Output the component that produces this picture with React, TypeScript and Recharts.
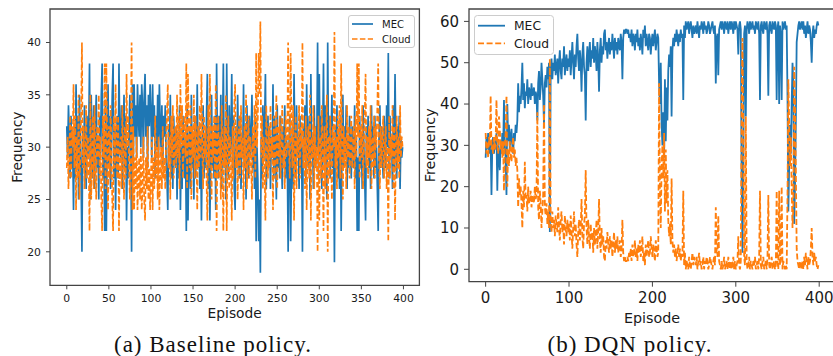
import React from 'react';
import { LineChart, Line, XAxis, YAxis, ReferenceArea } from 'recharts';

// ---------- data ----------
const baselineMEC = [
  32,29,34,31,27,33,28,30,24,32,27,36,29,33,25,35,31,27,20,32,
  28,34,30,26,33,29,31,38,25,35,30,27,34,26,32,35,28,31,25,33,
  29,35,38,27,31,22,34,22,30,36,28,33,26,30,35,38,27,32,24,31,
  33,27,38,30,29,34,26,31,35,28,33,23,30,27,32,35,30,20,36,28,
  36,31,34,29,36,33,31,35,30,36,34,29,35,37,31,34,28,35,32,36,
  33,29,36,31,34,27,33,30,35,29,36,32,30,34,28,33,31,34,29,27,
  24,32,29,35,27,31,26,33,30,28,32,25,31,27,34,24,30,26,33,29,
  27,31,22,34,23,29,32,26,35,28,31,25,33,27,30,36,28,32,26,31,
  23,30,34,27,31,28,33,37,26,32,23,29,35,28,31,27,33,24,38,30,
  27,33,29,35,26,31,38,28,32,25,38,30,27,34,29,31,37,28,33,26,
  24,32,28,35,30,27,33,26,31,29,36,28,32,25,34,30,27,33,29,31,
  35,28,31,26,33,21,30,27,21,25,18,31,27,34,29,32,37,26,30,33,
  28,32,26,31,29,36,27,33,30,25,34,28,31,27,33,29,26,32,30,34,
  27,31,29,20,30,33,21,28,32,26,37,30,27,34,29,31,26,33,28,30,
  20,32,29,34,27,36,30,28,33,25,37,29,31,26,34,28,32,30,40,27,
  37,29,33,26,31,38,28,34,30,25,40,29,33,27,31,35,28,30,19,32,
  29,34,27,31,26,33,22,30,35,28,32,29,34,26,31,28,33,30,27,32,
  30,28,34,27,31,22,29,22,33,28,31,26,34,30,27,23,32,29,33,28,
  31,26,34,29,32,27,33,28,30,26,22,31,34,28,32,29,27,33,30,28,
  34,30,39,27,33,29,31,26,34,28,37,30,27,32,29,33,26,31,29,30,
];

const baselineCloud = [
  28,31,26,29,33,27,32,30,36,28,33,24,31,27,35,25,29,33,40,28,
  32,26,30,34,27,31,29,22,35,25,30,33,26,34,28,25,32,29,35,27,
  31,25,22,33,29,38,26,38,30,24,32,27,34,30,25,22,33,28,36,29,
  27,33,22,30,31,26,34,29,25,32,27,37,30,33,28,25,30,40,24,32,
  24,29,26,31,24,27,29,25,30,24,26,31,25,23,29,26,32,25,28,24,
  27,31,24,29,26,33,27,30,25,31,24,28,30,26,32,27,29,26,31,33,
  36,28,31,25,33,29,34,27,30,32,28,35,29,33,26,36,30,34,27,31,
  33,29,38,26,37,31,28,34,25,32,29,35,27,33,30,24,32,28,34,29,
  37,30,26,33,29,32,27,23,34,28,37,31,25,32,29,33,27,36,22,30,
  33,27,31,25,34,29,22,32,28,35,22,30,33,26,31,29,23,32,27,34,
  36,28,32,25,30,33,27,34,29,31,24,32,28,35,26,30,33,27,31,29,
  25,32,29,34,27,39,30,33,39,35,42,29,33,26,31,28,23,34,30,27,
  32,28,34,29,31,24,33,27,30,35,26,32,29,33,27,31,34,28,30,26,
  33,29,31,40,30,27,39,32,28,34,23,30,33,26,31,29,34,27,32,30,
  40,28,31,26,33,24,30,32,27,35,23,31,29,34,26,32,28,30,20,33,
  23,31,27,34,29,22,32,26,30,35,20,31,27,33,29,25,32,30,41,28,
  31,26,33,29,34,27,38,30,25,32,28,31,26,34,29,32,27,30,33,28,
  30,32,26,33,29,38,31,38,27,32,29,34,26,30,33,37,28,31,27,32,
  29,34,26,31,28,33,27,32,30,34,38,29,26,32,28,31,33,27,30,32,
  26,30,21,33,27,31,29,34,26,32,23,30,33,28,31,27,34,29,31,30,
];

const dqnMEC = [
  27,32,29,33,28,30,31,18,30,32,28,31,29,33,19,30,27,24,31,28,
  33,29,41,30,27,18,40,31,35,29,32,34,30,28,33,31,35,33,36,45,
  38,42,40,44,50,41,45,39,43,42,46,40,44,43,41,45,42,43,44,40,
  43,42,36,45,48,41,44,50,46,42,35,45,47,44,49,46,50,9,48,51,
  46,50,48,52,47,49,51,45,50,53,48,46,51,49,54,47,50,52,48,51,
  49,53,47,51,55,50,46,52,49,54,57,51,48,53,50,43,52,55,49,47,
  36,50,54,48,52,55,49,53,51,56,50,54,52,48,55,51,43,53,56,50,
  54,52,57,58,53,55,51,54,56,52,55,53,57,54,51,56,53,55,52,56,
  54,53,57,55,46,56,58,57,58,58,57,58,56,57,55,58,54,57,56,53,
  57,55,58,54,56,53,57,55,52,58,56,59,54,57,55,53,57,56,52,55,
  57,54,56,58,53,55,57,56,45,40,50,35,30,38,27,46,31,44,36,48,
  52,49,54,37,53,56,54,57,55,58,56,54,57,55,58,56,57,41,59,56,
  60,58,59,60,57,59,60,58,56,59,57,58,59,57,60,58,56,59,58,60,
  59,57,60,58,59,57,58,60,59,57,58,59,60,58,57,59,45,56,57,47,
  58,59,60,58,60,59,57,60,59,58,60,57,59,60,58,60,59,57,60,58,
  60,59,58,52,59,60,58,20,4,25,57,59,37,58,60,59,57,60,58,59,
  60,58,59,57,60,59,58,60,57,41,59,60,58,57,60,59,58,60,57,42,
  59,60,58,57,60,59,58,60,59,41,58,60,40,59,57,41,60,58,59,60,
  58,59,42,14,25,35,28,40,50,45,11,20,36,55,57,59,60,58,59,60,
  58,60,57,59,56,58,60,57,59,58,55,50,57,59,56,58,57,59,60,59,
];

const dqnCloud = [
  33,28,31,27,32,30,42,29,30,28,32,29,31,41,30,28,37,34,29,31,
  27,31,19,30,33,42,20,29,25,31,28,26,30,32,27,29,25,27,24,15,
  22,18,20,16,10,19,15,26,17,18,14,20,16,17,19,15,18,17,16,20,
  17,18,38,15,12,19,16,10,14,18,40,15,13,16,11,14,10,51,12,9,
  14,10,12,8,13,11,9,15,10,7,12,14,9,11,6,13,10,8,12,9,
  11,7,13,9,5,10,14,8,11,6,3,9,12,7,10,17,8,5,11,13,
  24,10,6,12,8,5,11,7,9,4,10,6,8,12,5,9,17,7,4,10,
  6,8,3,2,7,5,9,6,4,8,5,7,3,6,9,4,7,5,8,4,
  6,7,3,5,12,4,2,3,2,2,3,2,4,3,5,2,6,3,4,7,
  3,5,2,6,4,7,3,5,8,2,4,1,6,3,5,7,3,4,8,5,
  3,6,4,2,7,5,3,4,45,20,10,25,30,22,33,14,29,16,24,12,
  8,11,6,22,7,4,6,3,5,2,4,6,3,5,2,4,3,19,1,4,
  0,2,1,0,3,1,0,2,4,1,3,2,1,3,0,2,4,1,2,0,
  1,3,0,2,1,3,2,0,1,3,2,1,0,2,3,1,15,4,3,13,
  2,1,0,2,0,1,3,0,1,2,0,3,1,0,2,0,1,3,0,2,
  0,1,2,8,1,0,2,40,56,35,3,1,37,2,0,1,3,0,2,1,
  0,2,1,3,0,1,2,0,3,19,1,0,2,3,0,1,2,0,3,18,
  1,0,2,3,0,1,2,0,1,19,2,0,19,1,3,20,0,2,1,0,
  1,0,18,46,35,25,32,20,10,15,49,40,24,5,2,1,0,2,1,0,
  2,0,3,1,4,2,0,3,1,2,5,10,3,1,4,2,3,1,0,1,
];

const seriesNames = ['MEC', 'Cloud'];
const baselineXTicks = [0, 50, 100, 150, 200, 250, 300, 350, 400];
const baselineYTicks = [20, 25, 30, 35, 40];
const dqnXTicks = [0, 100, 200, 300, 400];
const dqnYTicks = [0, 10, 20, 30, 40, 50, 60];
const xLabel = 'Episode';
const yLabel = 'Frequency';
const captions = ['(a) Baseline policy.', '(b) DQN policy.'];

const baselineRows = baselineMEC.map((v, i) => ({ ep: i, mec: v, cloud: baselineCloud[i] }));
const dqnRows = dqnMEC.map((v, i) => ({ ep: i, mec: v, cloud: dqnCloud[i] }));

// ---------- style ----------
const BLUE = '#1f77b4';
const ORANGE = '#ff7f0e';
const SANS = '"DejaVu Sans", Verdana, sans-serif';
const SERIF = '"Liberation Serif", "Times New Roman", serif';
const TEXT = '#1a1a1a';
const SPINE = '#444444';
const X_DOMAIN: [number, number] = [-19.95, 418.95];

const xTick = (fontSize: number, dy: number) => (props: any) => {
  const { x, y, payload } = props;
  return (
    <text x={x} y={y + dy} textAnchor="middle" fontSize={fontSize} fontFamily={SANS} fill={TEXT}>
      {payload.value}
    </text>
  );
};

const yTick = (fontSize: number, dx: number) => (props: any) => {
  const { x, y, payload } = props;
  return (
    <text x={x - dx} y={y + fontSize * 0.36} textAnchor="end" fontSize={fontSize} fontFamily={SANS} fill={TEXT}>
      {payload.value}
    </text>
  );
};

const axisText = (text: string, x: number, y: number, fontSize: number, rotate = false) => () => (
  <text
    x={x}
    y={y}
    textAnchor="middle"
    fontSize={fontSize}
    fontFamily={SANS}
    fill={TEXT}
    transform={rotate ? `rotate(-90 ${x} ${y})` : undefined}
  >
    {text}
  </text>
);

export default function App() {
  return (
    <div
      style={{
        position: 'absolute',
        left: 0,
        top: 0,
        width: 833,
        height: 356,
        overflow: 'hidden',
        background: '#ffffff',
      }}
    >
      {/* Left panel: Baseline */}
      <div style={{ position: 'absolute', left: 0, top: 0 }}>
        <LineChart width={430} height={330} data={baselineRows} margin={{ top: 9, right: 10.6, bottom: 0, left: 0 }}>
          <XAxis
            dataKey="ep"
            type="number"
            domain={X_DOMAIN}
            allowDataOverflow
            ticks={baselineXTicks}
            interval={0}
            height={44.7}
            tickSize={4}
            tickMargin={0}
            axisLine={false}
            tickLine={{ stroke: SPINE }}
            tick={xTick(10.8, 12.6)}
            label={axisText(xLabel, 234.7, 317.5, 13.8)}
          />
          <YAxis
            type="number"
            domain={[16.8, 43.2]}
            allowDataOverflow
            ticks={baselineYTicks}
            interval={0}
            width={50}
            tickSize={4}
            tickMargin={0}
            axisLine={false}
            tickLine={{ stroke: SPINE }}
            tick={yTick(10.8, 5)}
            label={axisText(yLabel, 22, 147.2, 13.8, true)}
          />
          <Line type="linear" dataKey="mec" name={seriesNames[0]} stroke={BLUE} strokeWidth={1.7} dot={false} isAnimationActive={false} />
          <Line type="linear" dataKey="cloud" name={seriesNames[1]} stroke={ORANGE} strokeWidth={1.7} strokeDasharray="5.5 2.4" dot={false} isAnimationActive={false} />
          <ReferenceArea x1={X_DOMAIN[0]} x2={X_DOMAIN[1]} y1={16.8} y2={43.2} fill="none" stroke={SPINE} strokeWidth={1.3} ifOverflow="visible" />
        </LineChart>
      </div>

      {/* Right panel: DQN */}
      <div style={{ position: 'absolute', left: 410, top: 0 }}>
        <LineChart width={430} height={330} data={dqnRows} margin={{ top: 9, right: 5, bottom: 0, left: 0 }}>
          <XAxis
            dataKey="ep"
            type="number"
            domain={X_DOMAIN}
            allowDataOverflow
            ticks={dqnXTicks}
            interval={0}
            height={48.3}
            tickSize={5}
            tickMargin={0}
            axisLine={false}
            tickLine={{ stroke: SPINE }}
            tick={xTick(15, 16.5)}
            label={axisText(xLabel, 242, 323, 14.3)}
          />
          <YAxis
            type="number"
            domain={[-3, 63]}
            allowDataOverflow
            ticks={dqnYTicks}
            interval={0}
            width={59}
            tickSize={5}
            tickMargin={0}
            axisLine={false}
            tickLine={{ stroke: SPINE }}
            tick={yTick(15, 5)}
            label={axisText(yLabel, 25.3, 145.3, 14.3, true)}
          />
          <Line type="linear" dataKey="mec" name={seriesNames[0]} stroke={BLUE} strokeWidth={1.8} dot={false} isAnimationActive={false} />
          <Line type="linear" dataKey="cloud" name={seriesNames[1]} stroke={ORANGE} strokeWidth={1.8} strokeDasharray="6 2.6" dot={false} isAnimationActive={false} />
          <ReferenceArea x1={X_DOMAIN[0]} x2={X_DOMAIN[1]} y1={-3} y2={63} fill="none" stroke={SPINE} strokeWidth={1.3} ifOverflow="visible" />
        </LineChart>
      </div>

      {/* Legends and captions */}
      <svg width={833} height={356} style={{ position: 'absolute', left: 0, top: 0, pointerEvents: 'none' }}>
        {/* left legend */}
        <rect x={348.5} y={15.5} width={66} height={32} rx={2.5} fill="#ffffff" fillOpacity={0.85} stroke="#cccccc" />
        <line x1={352} y1={24} x2={373} y2={24} stroke={BLUE} strokeWidth={1.7} />
        <line x1={352} y1={39} x2={373} y2={39} stroke={ORANGE} strokeWidth={1.7} strokeDasharray="5.5 2.4" />
        <text x={382} y={27.6} fontSize={10} fontFamily={SANS} fill={TEXT}>{seriesNames[0]}</text>
        <text x={382} y={42.6} fontSize={10} fontFamily={SANS} fill={TEXT}>{seriesNames[1]}</text>

        {/* right legend */}
        <rect x={474.5} y={15.5} width={79} height={39} rx={3} fill="#ffffff" fillOpacity={0.85} stroke="#cccccc" />
        <line x1={478} y1={25.7} x2={505} y2={25.7} stroke={BLUE} strokeWidth={1.8} />
        <line x1={478} y1={43.3} x2={505} y2={43.3} stroke={ORANGE} strokeWidth={1.8} strokeDasharray="6 2.6" />
        <text x={514} y={30.2} fontSize={12.3} fontFamily={SANS} fill={TEXT}>{seriesNames[0]}</text>
        <text x={514} y={47.8} fontSize={12.3} fontFamily={SANS} fill={TEXT}>{seriesNames[1]}</text>

        {/* captions */}
        <text x={213} y={351.5} textAnchor="middle" fontSize={23} letterSpacing={1} fontFamily={SERIF} fill="#111">{captions[0]}</text>
        <text x={630} y={351.5} textAnchor="middle" fontSize={23} letterSpacing={1} fontFamily={SERIF} fill="#111">{captions[1]}</text>
      </svg>
    </div>
  );
}
